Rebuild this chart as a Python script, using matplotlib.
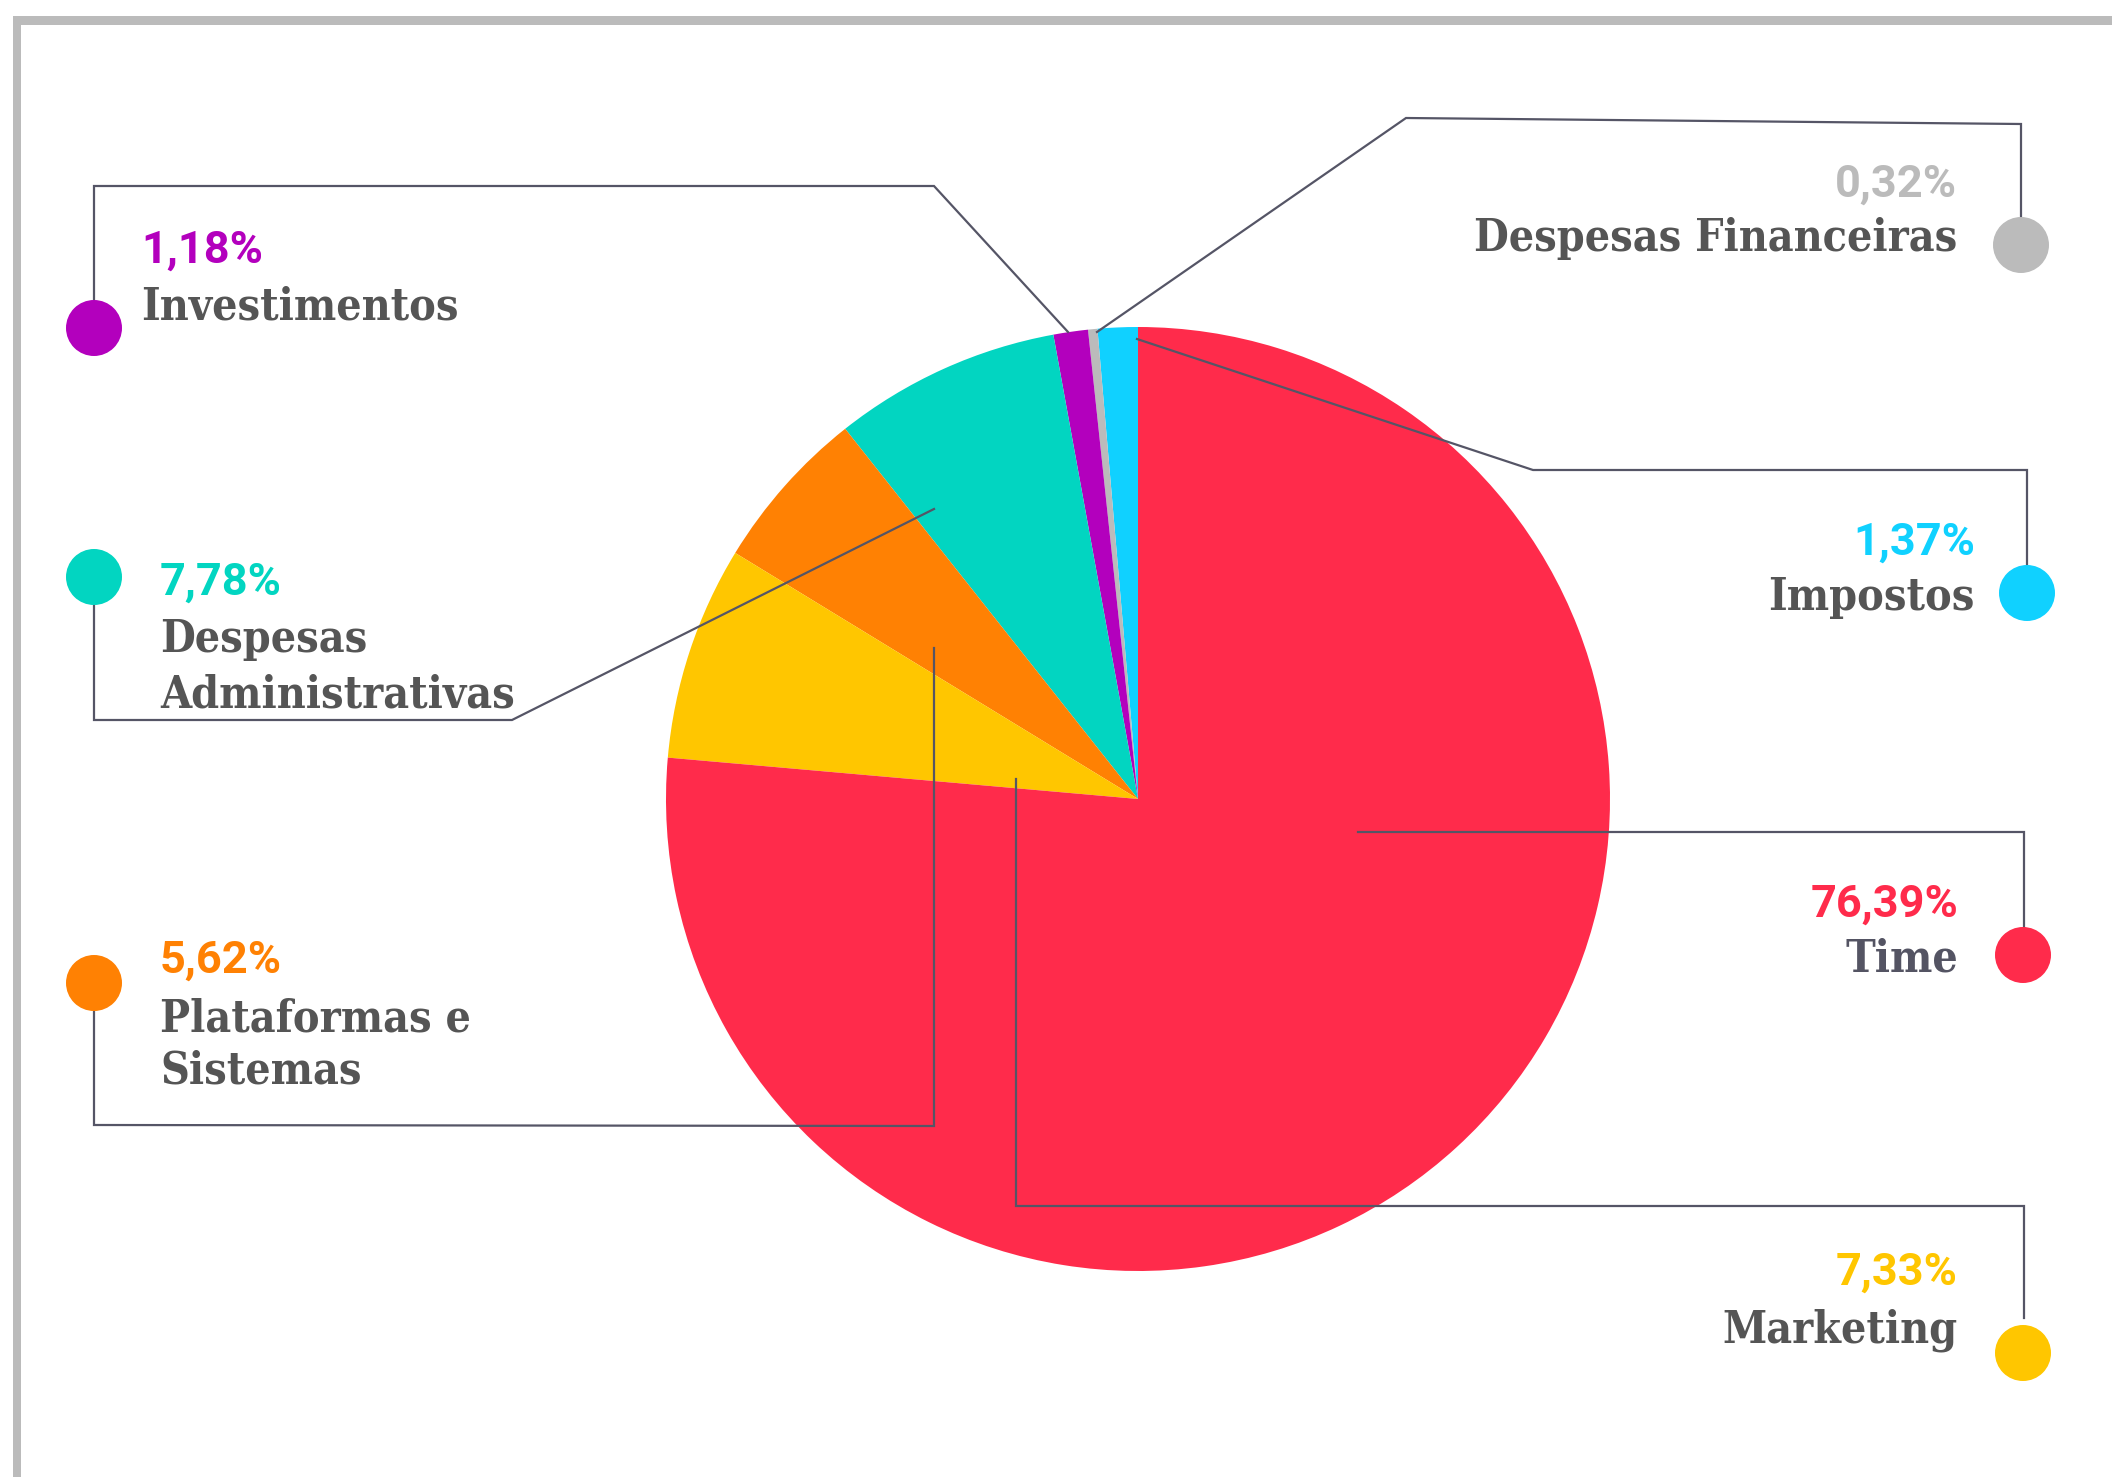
import matplotlib
matplotlib.use("Agg")
import matplotlib.pyplot as plt
from matplotlib.patches import Circle, Rectangle

# ---- data ----
categories = ["Impostos", "Despesas Financeiras", "Investimentos",
              "Despesas\nAdministrativas", "Plataformas e\nSistemas",
              "Marketing", "Time"]
values = [1.37, 0.32, 1.18, 7.78, 5.62, 7.33, 76.39]
pct_labels = ["1,37%", "0,32%", "1,18%", "7,78%", "5,62%", "7,33%", "76,39%"]
colors = ["#10D1FF", "#BBBBBB", "#B300BD", "#02D5C1", "#FF8103", "#FFC600", "#FF2B4B"]

W, H = 2112, 1477
fig = plt.figure(figsize=(W / 100, H / 100), dpi=100)
ax = fig.add_axes([0, 0, 1, 1])

ax.pie(values, colors=colors, startangle=270, counterclock=False,
       center=(1138, 799), radius=472, wedgeprops=dict(linewidth=0))
ax.set_xlim(0, W)
ax.set_ylim(H, 0)
ax.set_aspect("equal")
ax.axis("off")

# frame
frame_c = "#BBBBBB"
ax.add_patch(Rectangle((13, 16), W, 9, color=frame_c, lw=0))
ax.add_patch(Rectangle((13, 16), 8, H, color=frame_c, lw=0))

line_c = "#555566"
leaders = {
    "Investimentos": [(1068, 332), (934, 186), (94, 186), (94, 300)],
    "Despesas Financeiras": [(1097, 332), (1406, 118), (2021, 124), (2021, 218)],
    "Impostos": [(1137, 339), (1533, 470), (2027, 470), (2027, 565)],
    "Time": [(1358, 832), (2024, 832), (2024, 927)],
    "Marketing": [(1016, 779), (1016, 1206), (2024, 1206), (2024, 1318)],
    "Plataformas e\nSistemas": [(934, 648), (934, 1126), (94, 1125), (94, 1012)],
    "Despesas\nAdministrativas": [(934, 509), (512, 720), (94, 720), (94, 605)],
}
for k, pts in leaders.items():
    xs, ys = zip(*pts)
    ax.plot(xs, ys, color=line_c, lw=1.6, solid_joinstyle="miter", zorder=3)

# label layout: dot centre, text anchor x, alignment, pct baseline, label baselines
layout = {
    "Investimentos": ((94, 328), 141, "left", 263, [319]),
    "Despesas Financeiras": ((2021, 245), 1957, "right", 197, [251]),
    "Impostos": ((2027, 593), 1975, "right", 555, [610]),
    "Time": ((2023, 955), 1958, "right", 917, [972]),
    "Marketing": ((2023, 1353), 1958, "right", 1285, [1342]),
    "Plataformas e\nSistemas": ((94, 983), 160, "left", 973, [1031, 1084]),
    "Despesas\nAdministrativas": ((94, 577), 160, "left", 595, [652, 707]),
}

label_font = dict(family=["DejaVu Serif"], fontweight="bold", fontsize=32,
                  fontstretch="condensed")
pct_font = dict(family=["Roboto"], fontweight="bold", fontsize=32.5)

for cat, pct, col in zip(categories, pct_labels, colors):
    (dx, dy), tx, ha, pb, lbs = layout[cat]
    ax.add_patch(Circle((dx, dy), 28, color=col, lw=0, zorder=4))
    ax.text(tx, pb, pct, color=col, ha=ha, va="baseline", **pct_font)
    lab_col = "#545463" if cat == "Time" else "#555555"
    for line, b in zip(cat.split("\n"), lbs):
        ax.text(tx, b, line, color=lab_col, ha=ha, va="baseline", **label_font)

fig.savefig("out.png", dpi=100, facecolor="white")
